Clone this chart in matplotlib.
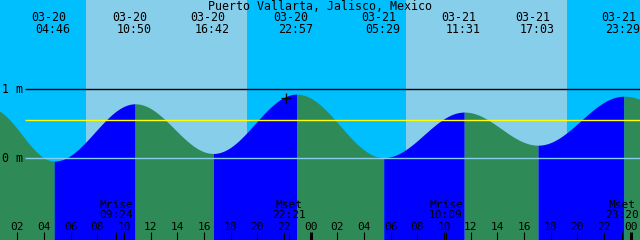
import numpy as np
import matplotlib
matplotlib.use("Agg")
import matplotlib.pyplot as plt
import matplotlib.transforms as mtransforms

# ---------------- data ----------------
title = "Puerto Vallarta, Jalisco, Mexico"

# tide extremes (hours from 03-20 00:00), levels in metres
# first and last entries are the off-chart extremes just outside the window
ext_hours = [-0.1, 4.767, 10.833, 16.70, 22.95, 29.483, 35.517, 41.05, 47.483, 54.5]
ext_levels = [0.73, -0.04, 0.79, 0.07, 0.93, 0.01, 0.67, 0.19, 0.90, 0.25]

# labelled events shown at the top
event_hours = [4.767, 10.833, 16.70, 22.95, 29.483, 35.517, 41.05, 47.483]
event_dates = ["03-20", "03-20", "03-20", "03-20", "03-21", "03-21", "03-21", "03-21"]
event_times = ["04:46", "10:50", "16:42", "22:57", "05:29", "11:31", "17:03", "23:29"]

# sun
sunrise_hours = [7.15, 31.15]
sunset_hours = [19.2, 43.2]

# moon
moon_hours = [9.40, 22.35, 34.15, 47.333]
moon_names = ["Mrise", "Mset", "Mrise", "Mset"]
moon_times = ["09:24", "22:21", "10:09", "23:20"]

# hour ticks
tick_hours = [2, 4, 6, 8, 10, 12, 14, 16, 18, 20, 22, 24,
              26, 28, 30, 32, 34, 36, 38, 40, 42, 44, 46, 48]
tick_labels = ["02", "04", "06", "08", "10", "12", "14", "16", "18", "20", "22", "00",
               "02", "04", "06", "08", "10", "12", "14", "16", "18", "20", "22", "00"]
midnight_hours = [24, 48]

# reference lines
ref_levels = [1.0, 0.55, 0.0]
ref_labels = ["1 m", "", "0 m"]

# current-time marker
now_hour = 22.15
now_level = 0.88

# ---------------- styling ----------------
W, H = 640, 240
t0 = 0.70
span = 48.0
px_per_h = W / span
zero_px = 158.3
px_per_m = 69.0
ytop = zero_px / px_per_m
ybot = -(H - zero_px) / px_per_m

DAY = "#87CEEB"
NIGHT = "#00BFFF"
RISE = "#0000FF"
FALL = "#2E8B57"
FONT = dict(family="DejaVu Sans Mono", fontsize=8.4, color="black")
SFONT = dict(family="DejaVu Sans Mono", fontsize=8.0, color="black")

fig = plt.figure(figsize=(6.4, 2.4), dpi=100)
ax = fig.add_axes([0, 0, 1, 1])
ax.set_xlim(t0, t0 + span)
ax.set_ylim(ybot, ytop)
ax.axis("off")

# background night/day
ax.axvspan(t0, t0 + span, color=NIGHT, zorder=0, lw=0)
for sr, ss in zip(sunrise_hours, sunset_hours):
    ax.axvspan(sr, ss, color=DAY, zorder=0.5, lw=0)

# tide curve: cosine between extremes
for i in range(len(ext_hours) - 1):
    ha, hb = ext_hours[i], ext_hours[i + 1]
    la, lb = ext_levels[i], ext_levels[i + 1]
    tt = np.linspace(ha, hb, 200)
    f = (tt - ha) / (hb - ha)
    lv = lb + (la - lb) * (1 + np.cos(np.pi * f)) / 2
    col = RISE if lb > la else FALL
    ax.fill_between(tt, lv, ybot, color=col, lw=0, zorder=1, antialiased=False)

# reference lines
line_cols = ["black", "#FFFF00", DAY]
x_start = t0 + 25 / px_per_h
for lvl, lab, c in zip(ref_levels, ref_labels, line_cols):
    ax.hlines(lvl, x_start, t0 + span, colors=c, lw=1.0, zorder=2)
    if lab:
        ax.text(t0 + 1.5 / px_per_h, lvl, lab, ha="left", va="center", zorder=3, **FONT)

trans = mtransforms.blended_transform_factory(ax.transData, ax.transAxes)

def ypx(p):
    return 1 - p / H

# title
fig.text(0.5, ypx(6.3), title, ha="center", va="center", **FONT)

# tide event labels
dx_date = -5.5 / px_per_h
dx_time = -1.0 / px_per_h
for h, d, t in zip(event_hours, event_dates, event_times):
    ax.text(h + dx_date, ypx(17.8), d, transform=trans, ha="center", va="center", zorder=3, **FONT)
    ax.text(h + dx_time, ypx(29.3), t, transform=trans, ha="center", va="center", zorder=3, **FONT)

# hour ticks & labels
for h, lab in zip(tick_hours, tick_labels):
    lw = 2.2 if h in midnight_hours else 0.8
    ax.plot([h, h], [ypx(232), ypx(240.5)], transform=trans, color="black", lw=lw,
            solid_capstyle="butt", zorder=3)
    ax.text(h, ypx(226.8), lab, transform=trans, ha="center", va="center", zorder=3, **SFONT)

# moon events
for h, n, t in zip(moon_hours, moon_names, moon_times):
    ax.plot([h, h], [ypx(232), ypx(240.5)], transform=trans, color="black", lw=0.8,
            solid_capstyle="butt", zorder=3)
    ax.text(h, ypx(220.0), n + "\n" + t, transform=trans, ha="center", va="bottom",
            multialignment="center", linespacing=1.05, zorder=3, **SFONT)

# now marker
ax.plot([now_hour], [now_level], marker="+", color="black", ms=7, mew=0.9, zorder=4)

fig.savefig("out.png", dpi=100)
